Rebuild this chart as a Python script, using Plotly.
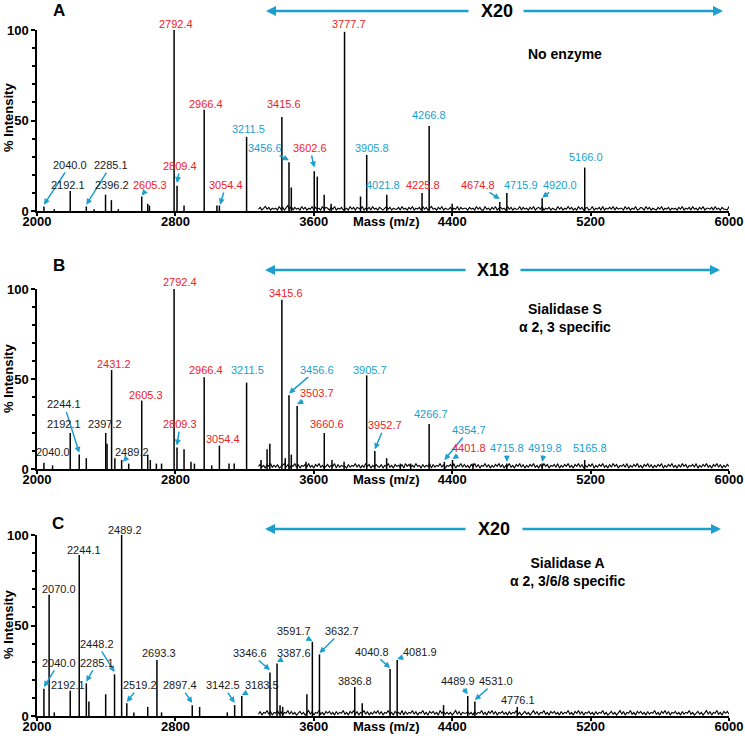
import plotly.graph_objects as go

# ---------------- data ----------------
# Peaks: m/z and displayed % intensity
a_mz = [2040.0, 2100, 2192.1, 2285.1, 2330, 2396.2, 2430, 2470, 2605.3, 2640, 2650, 2792.4, 2809.4, 2850,
        2966.4, 3040, 3054.4, 3211.5, 3415.6, 3456.6, 3470, 3602.6, 3620, 3660, 3700, 3777.7, 3870,
        3905.8, 4021.8, 4225.8, 4266.8, 4400, 4674.8, 4715.9, 4920.0, 5166.0]
a_int = [2.5, 1, 11, 2.5, 1, 9, 6, 1, 8, 4, 3, 100, 14, 3,
         56, 3, 3, 41, 52, 27, 13, 22, 19, 9, 4, 99, 8,
         31, 9, 10, 47, 4, 5, 10, 7, 24]

b_mz = [2040.0, 2090, 2192.1, 2244.1, 2285, 2397.2, 2405, 2431.2, 2450, 2489.2, 2530, 2605.3, 2640, 2655,
        2690, 2720, 2792.4, 2809.3, 2850, 2890, 2910, 2966.4, 3010, 3054.4, 3110, 3140, 3211.5, 3295,
        3330, 3346, 3415.6, 3435, 3456.6, 3470, 3503.7, 3555, 3660.6, 3705, 3775, 3905.7, 3952.7, 4021,
        4100, 4160, 4266.7, 4354.7, 4401.8, 4520, 4715.8, 4919.8, 5165.8]
b_int = [3.5, 2, 20, 8, 6, 20, 14, 55, 6, 5, 3, 38, 8, 5,
         3, 3, 100, 12, 11, 4, 3, 51, 2, 13, 3, 3, 48, 5,
         11, 14, 94, 6, 41, 8, 35, 4, 20, 5, 4, 52, 10, 6,
         3, 3, 25, 4, 5, 3, 3, 3, 5]

c_mz = [2040.0, 2070.0, 2100, 2192.1, 2244.1, 2285.1, 2300, 2397, 2448.2, 2489.2, 2519.2, 2560, 2640, 2693.3,
        2720, 2897.4, 2940, 3100, 3142.5, 3183.5, 3346.6, 3387.6, 3405, 3420, 3560, 3591.7, 3632.7,
        3836.8, 3880, 4040.8, 4081.9, 4350, 4489.9, 4531.0, 4776.1]
c_int = [15, 67, 2, 14, 89, 18, 8, 12, 23, 100, 7, 2, 5, 31,
         2, 6, 5, 2, 6, 11, 24, 29, 6, 5, 12, 41, 34,
         16, 7, 26, 31, 6, 11, 8, 5]

# Baseline noise (X20 region), one digit per 10 m/z step from 3280, digit = half-percent units
noise_start = 3280
noise_step = 10
a_noise = ("2413524132" "3152413625" "1423152413" "2514231524" "3142513241"
           "2315241432" "5132415231" "4213524132" "2415231425" "1324152413"
           "5231425132" "2413251423" "3142315241" "1523142513" "4231524132"
           "2514231425" "1342513241" "3215241325" "2413152413" "4125132415"
           "1324251423" "3152413251" "2431524132" "1425132413" "2314251324"
           "1523142513" "3241523142" "2153241523")
b_noise = ("3524153624" "2513462514" "3625143526" "2415362413" "5243615243"
           "3152436251" "4263514253" "2514362415" "3425163524" "2634152436"
           "1524362514" "3526143625" "2415362514" "3625142536" "2514362415"
           "3625142536" "2415263514" "3526142536" "2415362514" "2536142536"
           "2415263514" "3526142536" "2415362514" "2536142536" "2415263514"
           "3526142536" "2415362514" "2536142536")
c_noise = ("2514362514" "3625143625" "2413524136" "2514362415" "3524152436"
           "2415362514" "3625142536" "2514362415" "3426152436" "2514362415"
           "3524163524" "2413625143" "3524152436" "2415362514" "3524152436"
           "2413524136" "2514362415" "3524152436" "2415362514" "3524152436"
           "2413524136" "2514362415" "3524152436" "2415362514" "3524152436"
           "2413524136" "2514362415" "3524152436")

# Labels: text, colour key, text position (m/z, %), arrow tip (m/z, %) or None
a_labels = [
    ("2792.4", "r", 2803, 103.3, None), ("3777.7", "r", 3803, 103.3, None),
    ("2966.4", "r", 2977, 59.1, None), ("3415.6", "r", 3428, 59.1, None),
    ("3211.5", "b", 3220, 45.3, None), ("3456.6", "b", 3318, 34.8, (3456.6, 28)),
    ("3602.6", "r", 3578, 34.8, (3602.6, 24)), ("3905.8", "b", 3936, 34.8, None),
    ("2040.0", "k", 2191, 25.4, (2040.0, 3.5)), ("2192.1", "k", 2179, 14.4, None),
    ("2285.1", "k", 2428, 25.4, (2285.1, 3.5)), ("2396.2", "k", 2433, 14.4, None),
    ("2605.3", "r", 2653, 14.4, (2605.3, 8.5)), ("2809.4", "r", 2827, 24.9, (2809.4, 15.5)),
    ("3054.4", "r", 3092, 14.4, (3058, 3.5)), ("4021.8", "b", 4000, 14.4, None),
    ("4225.8", "r", 4231, 14.4, None), ("4266.8", "b", 4266, 53, None),
    ("4674.8", "r", 4549, 14.4, (4674.8, 6.6)), ("4715.9", "b", 4797, 14.4, None),
    ("4920.0", "b", 5023, 14.4, (4920.0, 7.5)), ("5166.0", "b", 5173, 29.8, None),
]
b_labels = [
    ("2792.4", "r", 2827, 103.9, None), ("3415.6", "r", 3439, 97.8, None),
    ("2431.2", "r", 2445, 58.6, None), ("2966.4", "r", 2977, 55.2, None),
    ("3211.5", "b", 3214, 55.2, None), ("3456.6", "b", 3618, 55.2, (3456.6, 42)),
    ("3905.7", "b", 3925, 55.2, None), ("3503.7", "r", 3618, 42, (3503.7, 36)),
    ("2605.3", "r", 2630, 40.9, None), ("2244.1", "k", 2156, 35.9, (2244.1, 9)),
    ("2192.1", "k", 2156, 24.9, None), ("2397.2", "k", 2393, 24.9, None),
    ("2809.3", "r", 2827, 24.9, (2809.3, 13)), ("3054.4", "r", 3075, 16.6, None),
    ("3660.6", "r", 3676, 24.9, None), ("2040.0", "k", 2092, 9.4, None),
    ("2489.2", "k", 2549, 9.4, (2497, 4)), ("3952.7", "r", 4011, 24.3, (3952.7, 11)),
    ("4266.7", "b", 4277, 30.4, None), ("4354.7", "b", 4497, 21.5, (4354.7, 5)),
    ("4401.8", "r", 4497, 11.6, (4401.8, 5.5)), ("4715.8", "b", 4717, 11.6, (4715.8, 4)),
    ("4919.8", "b", 4936, 11.6, (4919.8, 4)), ("5165.8", "b", 5196, 11.6, None),
]
c_labels = [
    ("2489.2", "k", 2509, 102.8, None), ("2244.1", "k", 2272, 91.7, None),
    ("2070.0", "k", 2127, 70.2, None), ("2448.2", "k", 2347, 39.8, (2448.2, 24.3)),
    ("2040.0", "k", 2127, 29.3, (2040.0, 16)), ("2285.1", "k", 2347, 29.3, (2285.1, 19)),
    ("2192.1", "k", 2179, 17.1, None), ("2693.3", "k", 2705, 34.8, None),
    ("2519.2", "k", 2595, 17.1, (2519.2, 7.7)), ("2897.4", "k", 2827, 17.1, (2897.4, 7.2)),
    ("3142.5", "k", 3075, 17.1, (3142.5, 7.2)), ("3183.5", "k", 3300, 17.1, (3183.5, 11.6)),
    ("3346.6", "k", 3231, 34.8, (3346.6, 25.4)), ("3387.6", "k", 3486, 34.8, (3387.6, 29.8)),
    ("3591.7", "k", 3486, 47, (3591.7, 41.4)), ("3632.7", "k", 3763, 47, (3632.7, 34.8)),
    ("3836.8", "k", 3838, 19.3, None), ("4040.8", "k", 3936, 35.4, (4040.8, 26.5)),
    ("4081.9", "k", 4214, 35.4, (4081.9, 31.5)), ("4489.9", "k", 4434, 19.3, (4489.9, 12)),
    ("4531.0", "k", 4653, 19.3, (4531.0, 8.8)), ("4776.1", "k", 4780, 8.8, None),
]

panel_letters = ["A", "B", "C"]
zoom_texts = ["X20", "X18", "X20"]
conditions = ["<b>No enzyme</b>", "<b>Sialidase S<br>α 2, 3 specific</b>", "<b>Sialidase A<br>α 2, 3/6/8 specific</b>"]
x_ticks = [2000, 2800, 3600, 4400, 5200, 6000]
y_ticks = [0, 50, 100]

# ---------------- styling / layout ----------------
W, H = 745, 739
FONT = "Liberation Sans, Arial, sans-serif"
COL = {"r": "#ee2229", "b": "#1a9fcf", "k": "#1a1a1a"}
BLUE = "#1a9fcf"

x_px = (37, 729)
panels_px = [(30, 211), (289, 469), (535, 716)]  # (top, bottom) pixel rows of 100% and 0%
# zoom arrows in pixels: left tip x, left line end x, text centre x, right line start x, right tip x, y
zoom_px = [(266, 470, 497, 522, 723, 11),
           (265, 467, 493, 519, 720, 270),
           (265, 467, 494, 521, 721, 529)]
cond_px = [(565, 54), (565, 318), (567, 572)]
letter_px = [(59, 10), (59, 265), (58, 523)]
ytitle_py = [118, 379, 625]

fig = go.Figure()
layout = dict(width=W, height=H, margin=dict(l=0, r=0, t=0, b=0, autoexpand=False),
              paper_bgcolor="white", plot_bgcolor="white", showlegend=False,
              font=dict(family=FONT, color="black"))
annotations = []

datasets = [(a_mz, a_int, a_noise, a_labels), (b_mz, b_int, b_noise, b_labels), (c_mz, c_int, c_noise, c_labels)]

for i, (mz, inten, noise, labels) in enumerate(datasets):
    sfx = "" if i == 0 else str(i + 1)
    xa, ya = "x" + sfx, "y" + sfx
    top, bot = panels_px[i]
    d_lo, d_hi = 1 - bot / H, 1 - top / H

    def y_paper(p, d_lo=d_lo, d_hi=d_hi):
        return d_lo + p / 100.0 * (d_hi - d_lo)

    n_x, n_y = [], []
    for k, ch in enumerate(noise):
        xv = noise_start + k * noise_step
        if xv > 6000:
            break
        n_x.append(xv)
        n_y.append(int(ch) * 0.5)
    fig.add_trace(go.Scatter(x=n_x, y=n_y, mode="lines", line=dict(color="black", width=1.1),
                             xaxis=xa, yaxis=ya, hoverinfo="skip"))

    sx, sy = [], []
    for m, h in zip(mz, inten):
        sx += [m, m, None]
        sy += [0, h, None]
    fig.add_trace(go.Scatter(x=sx, y=sy, mode="lines", line=dict(color="black", width=1.5),
                             xaxis=xa, yaxis=ya, hoverinfo="skip", cliponaxis=False))

    layout["xaxis" + sfx] = dict(
        domain=[x_px[0] / W, x_px[1] / W], range=[2000, 6000], anchor=ya, automargin=False,
        tickvals=x_ticks, ticks="outside", ticklen=3, tickwidth=1.5, tickcolor="black",
        showline=True, linewidth=1.5, linecolor="black", showgrid=False, zeroline=False,
        tickfont=dict(family=FONT, size=13, color="black", weight="bold"),
        ticklabelstandoff=-5,
    )
    layout["yaxis" + sfx] = dict(
        domain=[d_lo, d_hi], range=[0, 100], anchor=xa, automargin=False,
        tickvals=y_ticks, ticks="outside", ticklen=4, tickwidth=1.5, tickcolor="black",
        minor=dict(tickmode="linear", tick0=0, dtick=10, ticks="outside", ticklen=3, tickcolor="black"),
        showline=True, linewidth=1.5, linecolor="black", showgrid=False, zeroline=False,
        tickfont=dict(family=FONT, size=13, color="black", weight="bold"),
    )

    # peak labels
    for text, ck, tx, ty, tip in labels:
        if tip is None:
            annotations.append(dict(x=tx, y=y_paper(ty), xref=xa, yref="paper", text=text, showarrow=False,
                                    font=dict(family=FONT, size=11, color=COL[ck]),
                                    xanchor="center", yanchor="middle"))
        else:
            annotations.append(dict(x=tip[0], y=tip[1], xref=xa, yref=ya, ax=tx, ay=ty,
                                    axref=xa, ayref=ya, text=text, showarrow=True,
                                    arrowhead=2, arrowsize=0.8, arrowwidth=1.5, arrowcolor=BLUE,
                                    font=dict(family=FONT, size=11, color=COL[ck])))

    # zoom arrows (pixel geometry)
    lt, le, xt, rs, rt, yz = zoom_px[i]
    annotations.append(dict(x=lt / W, y=1 - yz / H, xref="paper", yref="paper", ax=le - lt, ay=0,
                            text="", showarrow=True, arrowhead=2, arrowsize=0.8, arrowwidth=2.5,
                            arrowcolor=BLUE))
    annotations.append(dict(x=rt / W, y=1 - yz / H, xref="paper", yref="paper", ax=rs - rt, ay=0,
                            text="", showarrow=True, arrowhead=2, arrowsize=0.8, arrowwidth=2.5,
                            arrowcolor=BLUE))
    annotations.append(dict(x=xt / W, y=1 - yz / H, xref="paper", yref="paper",
                            text="<b>%s</b>" % zoom_texts[i], showarrow=False,
                            xanchor="center", yanchor="middle",
                            font=dict(family=FONT, size=18, color="black")))

    # condition text
    cx, cy = cond_px[i]
    annotations.append(dict(x=cx / W, y=1 - cy / H, xref="paper", yref="paper", text=conditions[i],
                            showarrow=False, xanchor="center", yanchor="middle",
                            font=dict(family=FONT, size=14, color="black"), align="center"))

    # panel letter
    lx, ly = letter_px[i]
    annotations.append(dict(x=lx / W, y=1 - ly / H, xref="paper", yref="paper",
                            text="<b>%s</b>" % panel_letters[i], showarrow=False,
                            xanchor="center", yanchor="middle",
                            font=dict(family=FONT, size=17, color="black")))

    # y title
    annotations.append(dict(x=8 / W, y=1 - ytitle_py[i] / H, xref="paper", yref="paper",
                            text="<b>% Intensity</b>", textangle=-90, showarrow=False,
                            xanchor="center", yanchor="middle",
                            font=dict(family=FONT, size=13, color="black")))

    # x title
    annotations.append(dict(x=386 / W, y=1 - (bot + 10) / H, xref="paper", yref="paper",
                            text="<b>Mass (m/z)</b>", showarrow=False,
                            xanchor="center", yanchor="middle",
                            font=dict(family=FONT, size=13, color="black")))

layout["annotations"] = annotations
fig.update_layout(**layout)
fig.write_html("out.html", config={"displayModeBar": False},
               post_script="document.body.style.margin='0px';")
